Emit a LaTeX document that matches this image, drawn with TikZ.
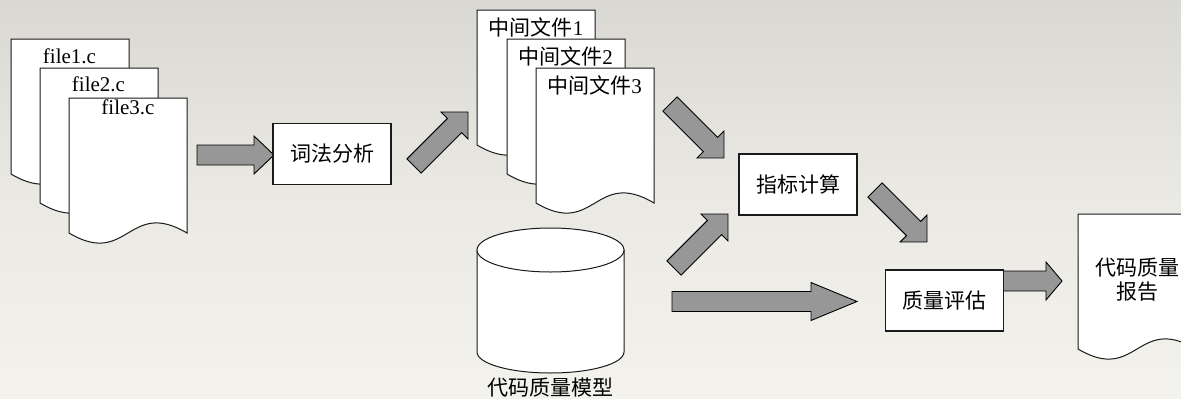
\documentclass[tikz,border=0pt]{standalone}
\usepackage{fontspec}
\setmainfont{Liberation Serif}
\newfontfamily\cjk{Noto Sans CJK SC}
\usetikzlibrary{calc}
\definecolor{arrowgray}{HTML}{979797}
\definecolor{bgtop}{HTML}{DAD8D2}
\definecolor{bgmid}{HTML}{EAE9E3}
\definecolor{bgbot}{HTML}{F3F2EC}
\definecolor{inkline}{HTML}{1A1A1A}
\tikzset{
  docshape/.style={draw=inkline, fill=white, line width=1pt, line join=miter},
  doc/.pic={\path[docshape] (0,0) -- (118,0) -- (118,135) .. controls (59,100) and (59,170) .. (0,135) -- cycle;},
  procbox/.style={draw=inkline, fill=white, line width=1.1pt, minimum width=118pt, minimum height=61pt, inner sep=0pt, font=\cjk\fontsize{21}{24}\selectfont},
  doctext/.style={inner sep=0pt, font=\fontsize{21}{24}\selectfont},
  barrow/.style={draw=black, fill=arrowgray, line width=0.9pt, line join=miter}
}
\newcommand\blockarrow[3]{%
  \path[barrow] let \p1=(#1), \p2=(#2), \n1={atan2(\y2-\y1,\x2-\x1)}, \n2={veclen(\x2-\x1,\y2-\y1)} in
    [shift={(\p1)}, rotate=\n1]
    (0pt,-10pt) -- ({(\n2-#3)*1pt},-10pt) -- ({(\n2-#3)*1pt},-19pt) -- ({\n2*1pt},0pt)
    -- ({(\n2-#3)*1pt},19pt) -- ({(\n2-#3)*1pt},10pt) -- (0pt,10pt) -- cycle;%
}
\begin{document}
\begin{tikzpicture}[x=1pt,y=-1pt]
\useasboundingbox (0,0) rectangle (1181,399);
\clip (0,0) rectangle (1181,399);
\fill[top color=bgtop, bottom color=bgbot, middle color=bgmid] (0,0) rectangle (1181,399);

% source files
\pic at (11,39) {doc};
\node[doctext] (f1) at (69.5,56) {file1.c};
\pic at (40,68) {doc};
\node[doctext] (f2) at (98.5,84) {file2.c};
\pic at (69,98) {doc};
\node[doctext] (f3) at (128,107) {file3.c};

% arrow coordinates
\coordinate (a1s) at (197,155);   \coordinate (a1e) at (274,155);
\coordinate (a2s) at (414,166);   \coordinate (a2e) at (468,112);
\coordinate (a3s) at (670,104);   \coordinate (a3e) at (724,158);
\coordinate (a4s) at (674,268);   \coordinate (a4e) at (728,214);
\coordinate (a5s) at (875,190);   \coordinate (a5e) at (927,242);
\coordinate (a6s) at (990,281);   \coordinate (a6e) at (1062,281);
\coordinate (a7s) at (672,301.5); \coordinate (a7e) at (857,301.5);

\blockarrow{a1s}{a1e}{20}
\node[procbox] (lex) at (332,154) {词法分析};
\blockarrow{a2s}{a2e}{19}

% intermediate files
\pic at (477,10) {doc};
\node[doctext] (m1) at (536,27) {\cjk 中间文件\rmfamily 1};
\pic at (507,39) {doc};
\node[doctext] (m2) at (565.5,56) {\cjk 中间文件\rmfamily 2};
\pic at (536,68) {doc};
\node[doctext] (m3) at (594.5,85) {\cjk 中间文件\rmfamily 3};

\blockarrow{a3s}{a3e}{19}

% model cylinder
\node[minimum width=147pt, minimum height=145pt, inner sep=0pt] (model) at (550.5,300) {};
\path[docshape] (477,250) -- (477,352) arc[start angle=180, end angle=0, x radius=73.5, y radius=21] -- (624,250) -- cycle;
\path[docshape] (550.5,250) ellipse [x radius=73.5, y radius=22];
\node[doctext, font=\cjk\fontsize{21}{24}\selectfont] (modellabel) at (550.5,388) {代码质量模型};

\blockarrow{a4s}{a4e}{19}
\blockarrow{a7s}{a7e}{46}

\node[procbox] (calc) at (798,184.5) {指标计算};
\blockarrow{a5s}{a5e}{19}
\blockarrow{a6s}{a6e}{16}
\node[procbox] (eval) at (944.5,300.5) {质量评估};

% report
\pic at (1078,214) {doc};
\node[doctext, align=center, font=\cjk\fontsize{21}{24}\selectfont] (report) at (1137,280) {代码质量\\报告};
\end{tikzpicture}
\end{document}
